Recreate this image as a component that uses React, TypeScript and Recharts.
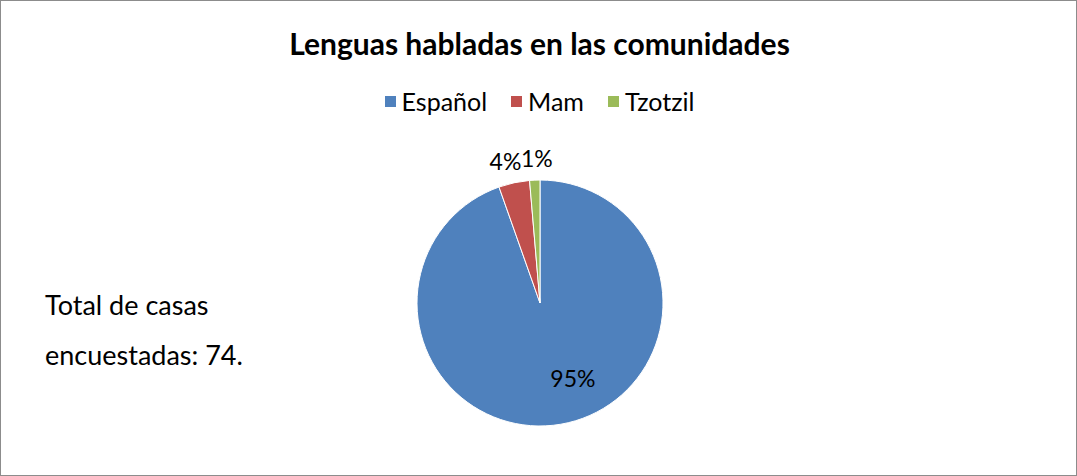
import { PieChart, Pie, Cell } from "recharts";

const languages = ["Español", "Mam", "Tzotzil"];
const households = [70, 3, 1];
const percentLabels = ["95%", "4%", "1%"];
const colors = ["#4F81BD", "#C0504D", "#9BBB59"];

const data = languages.map((name, i) => ({ name, value: households[i], label: percentLabels[i] }));

const FONT = "Lato, 'Open Sans', sans-serif";
const RAD = Math.PI / 180;
// small horizontal nudges so the two tiny labels don't collide
const labelNudge = [20, -4, 3];

// Español label sits inside the slice, the small ones outside
function renderLabel(props: any) {
  const { cx, cy, midAngle, outerRadius, index } = props;
  const inside = index === 0;
  const r = inside ? outerRadius * 0.62 : outerRadius + 22;
  const x = cx + r * Math.cos(-midAngle * RAD) + labelNudge[index];
  const y = cy + r * Math.sin(-midAngle * RAD);
  return (
    <text
      x={x}
      y={y}
      textAnchor="middle"
      dominantBaseline="central"
      fontFamily={FONT}
      fontSize={23}
      fill="#000"
    >
      {data[index].label}
    </text>
  );
}

function LegendRow() {
  return (
    <div
      style={{
        position: "absolute",
        top: 84,
        left: 0,
        width: 1077,
        display: "flex",
        justifyContent: "center",
        gap: 24,
        fontFamily: FONT,
        fontSize: 25,
        lineHeight: "32px",
      }}
    >
      {data.map((d, i) => (
        <div key={d.name} style={{ display: "flex", alignItems: "center" }}>
          <span style={{ width: 11, height: 11, background: colors[i], marginRight: 6, display: "inline-block" }} />
          <span>{d.name}</span>
        </div>
      ))}
    </div>
  );
}

export default function App() {
  return (
    <div
      style={{
        position: "relative",
        width: 1077,
        height: 476,
        border: "1px solid #8c8c8c",
        boxSizing: "border-box",
        background: "#fff",
      }}
    >
      <style>{`body{margin:0}`}</style>
      <div style={{ position: "absolute", left: -1, top: -1 }}>
        <PieChart width={1077} height={476} margin={{ top: 0, right: 0, bottom: 0, left: 0 }}>
          <Pie
            data={data}
            dataKey="value"
            nameKey="name"
            cx={540}
            cy={303}
            outerRadius={123}
            startAngle={90}
            endAngle={-270}
            stroke="#fff"
            strokeWidth={1}
            label={renderLabel}
            labelLine={false}
            isAnimationActive={false}
          >
            {data.map((d, i) => (
              <Cell key={d.name} fill={colors[i]} />
            ))}
          </Pie>
        </PieChart>
      </div>
      <div
        style={{
          position: "absolute",
          top: 24,
          left: 0,
          width: 1077,
          textAlign: "center",
          fontFamily: FONT,
          fontWeight: 700,
          fontSize: 30,
          lineHeight: "36px",
        }}
      >
        Lenguas habladas en las comunidades
      </div>
      <LegendRow />
      <div
        style={{
          position: "absolute",
          left: 44,
          top: 279,
          fontFamily: FONT,
          fontSize: 27,
          lineHeight: "50px",
        }}
      >
        Total de casas
        <br />
        encuestadas: 74.
      </div>
    </div>
  );
}
